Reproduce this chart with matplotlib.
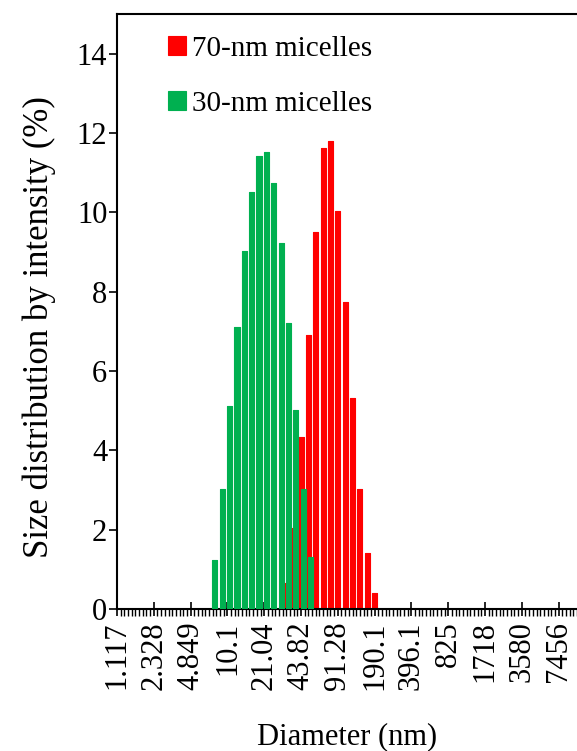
import matplotlib
matplotlib.use("Agg")
import matplotlib.pyplot as plt
import numpy as np

# Size bins (nm), Zetasizer-style log bins from 1.117 to 10000
diameters = [1.117, 1.294, 1.499, 1.736, 2.010, 2.328, 2.696, 3.122, 3.615, 4.187,
             4.849, 5.615, 6.503, 7.531, 8.721, 10.1, 11.70, 13.54, 15.69, 18.17,
             21.04, 24.36, 28.21, 32.67, 37.84, 43.82, 50.75, 58.77, 68.06, 78.82,
             91.28, 105.7, 122.4, 141.8, 164.2, 190.1, 220.2, 255.0, 295.3, 342.0,
             396.1, 458.7, 531.2, 615.1, 712.4, 825, 955.4, 1106, 1281, 1484,
             1718, 1990, 2305, 2669, 3091, 3580, 4145, 4801, 5560, 6439,
             7456, 8635, 10000]

# intensity distributions (%), nonzero bins only (others 0)
red_bins = [23, 24, 25, 26, 27, 28, 29, 30, 31, 32, 33, 34, 35]
red_vals = [0.65, 2.04, 4.34, 6.92, 9.51, 11.62, 11.8, 10.03, 7.73, 5.33, 3.03, 1.42, 0.40]
green_bins = [13, 14, 15, 16, 17, 18, 19, 20, 21, 22, 23, 24, 25, 26]
green_vals = [1.24, 3.03, 5.13, 7.1, 9.02, 10.52, 11.42, 11.52, 10.75, 9.22, 7.22, 5.01, 3.03, 1.32]

red_label = "70-nm micelles"
green_label = "30-nm micelles"
xlabel = "Diameter (nm)"
ylabel = "Size distribution by intensity (%)"

n = len(diameters)
red = np.zeros(n); red[red_bins] = red_vals
green = np.zeros(n); green[green_bins] = green_vals

plt.rcParams['font.family'] = ['Liberation Serif', 'DejaVu Serif']

W, H = 577, 751
fig = plt.figure(figsize=(W / 100, H / 100), dpi=100)
ax = fig.add_axes([117 / W, 1 - 609 / H, (577 - 117) / W, (609 - 14) / H])

x = np.arange(n)
bw = 0.70
RED = '#FF0000'
GREEN = '#00B050'
mr = red > 0
mg = green > 0
hr = ax.bar(x[mr] + 0.0, red[mr], width=bw, color=RED, edgecolor=RED, linewidth=0.8,
            joinstyle='round', zorder=2, label=red_label)
hg = ax.bar(x[mg] + 0.3, green[mg], width=bw, color=GREEN, edgecolor=GREEN, linewidth=0.8,
            joinstyle='round', zorder=3, label=green_label)

ax.set_xlim(0, (577 - 117) / 7.37)
ax.set_ylim(0, 15)

ax.set_yticks(np.arange(0, 15, 2))
ax.tick_params(axis='y', direction='out', length=6, width=1.2, labelsize=22, pad=1)

major = np.arange(0, n, 5)
ax.set_xticks(major)
ax.set_xticklabels([f"{diameters[i]:g}" if diameters[i] != 10.1 else "10.1" for i in major],
                   rotation=90)
ax.set_xticks(np.arange(0, 63, 0.5), minor=True)
ax.tick_params(axis='x', which='major', direction='inout', length=10, width=1.2,
               labelsize=22, pad=4)
ax.tick_params(axis='x', which='minor', direction='out', length=5, width=1.0)

for s in ['left', 'top', 'bottom']:
    ax.spines[s].set_linewidth(1.5)
ax.spines['right'].set_visible(False)

ax.set_xlabel(xlabel, fontsize=22, labelpad=23)
ax.set_ylabel(ylabel, fontsize=25)
ax.yaxis.set_label_coords(-0.1326, 0.474)

leg = ax.legend(handles=[hr, hg], loc='upper left', bbox_to_anchor=(168 / W, 1 - 36 / H),
                bbox_transform=fig.transFigure, frameon=False, fontsize=21,
                handlelength=0.62, handleheight=0.62, handletextpad=0.2,
                labelspacing=0.98, borderpad=0, borderaxespad=0)

fig.savefig("out.png", dpi=100)
